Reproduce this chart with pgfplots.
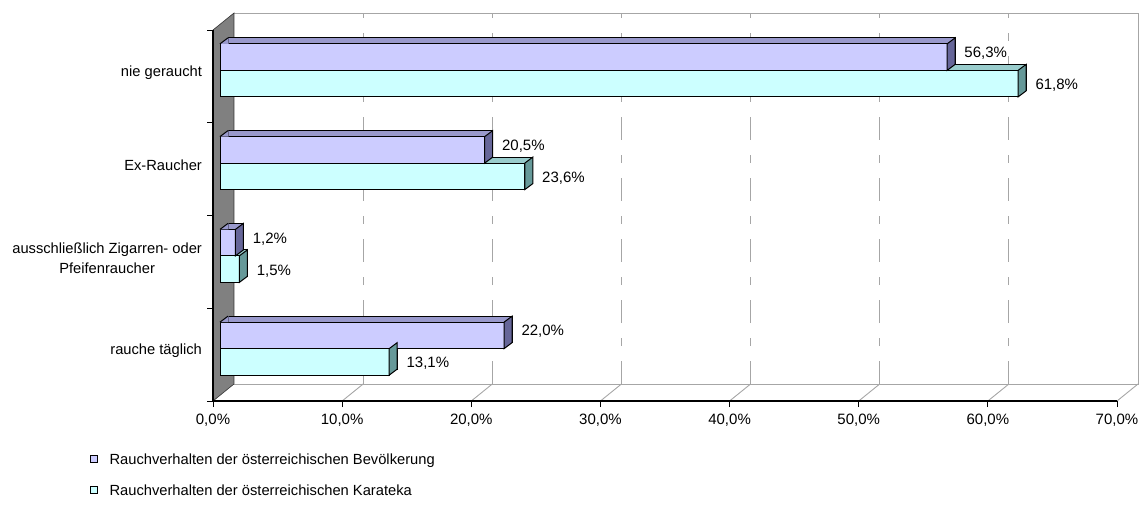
\documentclass[border=0pt]{standalone}
\usepackage{pgfplots}
\pgfplotsset{compat=1.18}
\usepackage{pgfplotstable}
\usepackage{fontspec}
\setmainfont{Liberation Sans}
\definecolor{pfront}{HTML}{CCCCFF}
\definecolor{ptop}{HTML}{9999CC}
\definecolor{pside}{HTML}{666699}
\definecolor{cfront}{HTML}{CCFFFF}
\definecolor{ctop}{HTML}{99CCCC}
\definecolor{cside}{HTML}{669999}
\definecolor{wallc}{HTML}{808080}
\definecolor{gridc}{HTML}{A6A6A6}

\pgfdeclareplotmark{sideP}{%
 \pgfpathmoveto{\pgfpoint{0pt}{0pt}}%
 \pgfpathlineto{\pgfpoint{0pt}{26.5pt}}%
 \pgfpathlineto{\pgfpoint{8pt}{32.5pt}}%
 \pgfpathlineto{\pgfpoint{8pt}{6pt}}%
 \pgfpathclose\pgfusepathqfillstroke}
\pgfdeclareplotmark{sideC}{%
 \pgfpathmoveto{\pgfpoint{0pt}{-26.5pt}}%
 \pgfpathlineto{\pgfpoint{0pt}{0pt}}%
 \pgfpathlineto{\pgfpoint{8pt}{6pt}}%
 \pgfpathlineto{\pgfpoint{8pt}{-20.5pt}}%
 \pgfpathclose\pgfusepathqfillstroke}
\pgfdeclareplotmark{leftP}{%
 \pgfpathmoveto{\pgfpoint{0pt}{26.5pt}}%
 \pgfpathlineto{\pgfpoint{8pt}{32.5pt}}%
 \pgfpathlineto{\pgfpoint{8.7pt}{32.5pt}}%
 \pgfpathlineto{\pgfpoint{8.7pt}{26.5pt}}%
 \pgfpathclose\pgfusepathqfill
 \pgfpathmoveto{\pgfpoint{0pt}{26.5pt}}%
 \pgfpathlineto{\pgfpoint{8pt}{32.5pt}}%
 \pgfusepathqstroke}

\pgfplotstableread{
y pop kar
0 22.0 13.1
1 1.2 1.5
2 20.5 23.6
3 56.3 61.8
}\data

\begin{document}
\fontsize{14.7}{17}\selectfont
\begin{tikzpicture}
% back wall
\begin{axis}[name=C, at={(21pt,17pt)}, anchor=south west, scale only axis,
  width=904pt, height=371pt, xmin=0, xmax=70, ymin=-0.5, ymax=3.5,
  hide axis, clip=false]
\pgfplotsinvokeforeach{10,20,...,60}{\draw[gridc, line width=0.9pt, dash pattern=on 23pt off 15pt on 8pt off 15pt] (axis cs:#1,-0.5) -- (axis cs:#1,3.5);}
\draw[gridc, line width=0.9pt] (axis cs:0,3.5) -- (axis cs:70,3.5) -- (axis cs:70,-0.5) -- (axis cs:0,-0.5);
\pgfplotsinvokeforeach{0,10,...,70}{\coordinate (c#1) at (axis cs:#1,-0.5);}
\coordinate (ct) at (axis cs:0,3.5);
\end{axis}
% front frame
\begin{axis}[name=A, at={(0,0)}, anchor=south west, scale only axis,
  width=904pt, height=371pt, xmin=0, xmax=70, ymin=-0.5, ymax=3.5,
  clip=false, axis on top,
  axis x line*=bottom, axis y line*=left,
  axis line style={black, line width=1.1pt, -},
  xtick={0,10,...,70}, tick align=outside, major tick length=6pt,
  xtick style={black, line width=0.9pt},
  xticklabel={\pgfmathprintnumber[fixed,fixed zerofill,precision=1,use comma,assume math mode=true]{\tick}\%},
  xticklabel style={font=\fontsize{15}{18}\selectfont, yshift=-2pt},
  ytick={0,1,2,3},
  yticklabels={rauche täglich,{ausschließlich Zigarren- oder\\Pfeifenraucher},Ex-Raucher,nie geraucht},
  ytick style={draw=none},
  yticklabel style={align=center, font=\fontsize{14.7}{20}\selectfont, yshift=4pt},
  legend image code/.code={\draw[#1] (0pt,-1.5pt) rectangle (7pt,5.5pt); \path[draw=none, fill=none] (0pt,-0.1pt) rectangle (17pt,0.1pt);},
  legend style={at={(0,0)}, anchor=north west, xshift=-123pt, yshift=-51pt,
    draw=none, fill=none, inner sep=0pt, row sep=14pt, cells={anchor=west},
    font=\fontsize{14.7}{17}\selectfont},
]
\fill[wallc, draw=black!80, line width=0.6pt] (axis cs:0,-0.5) -- (axis cs:0,3.5) -- (ct) -- (c0) -- cycle;
\pgfplotsinvokeforeach{10,20,...,70}{\draw[gridc, line width=0.9pt] (axis cs:#1,-0.5) -- (c#1);}
\pgfplotsinvokeforeach{-0.5,0.5,1.5,2.5,3.5}{\draw[black, line width=0.9pt] (axis cs:0,#1) -- ++(-6pt,0pt);}
\addlegendimage{fill=pfront, draw=black, line width=0.7pt}
\addlegendentry{Rauchverhalten der österreichischen Bevölkerung}
\addlegendimage{fill=cfront, draw=black, line width=0.7pt}
\addlegendentry{Rauchverhalten der österreichischen Karateka}
\end{axis}
% bars
\begin{axis}[name=B, at={(7pt,6pt)}, anchor=south west, scale only axis,
  width=904pt, height=371pt, xmin=0, xmax=70, ymin=-0.5, ymax=3.5,
  hide axis, clip=false,
  lbl/.style={nodes near coords={\pgfmathprintnumber[fixed,fixed zerofill,precision=1,use comma,assume math mode=true]{\pgfplotspointmeta}\%},
    point meta=x},
]
% Karateka
\addplot[xbar, bar width=26.5pt, bar shift=-13.25pt, xshift=8pt, yshift=6pt, fill=ctop, draw=black, line width=1pt] table[x=kar,y=y]{\data};
\addplot[only marks, mark=sideC, mark options={fill=cside, draw=black, line width=1pt}] table[x=kar,y=y]{\data};
\addplot[xbar, bar width=26.5pt, bar shift=-13.25pt, fill=cfront, draw=black, line width=1pt, lbl,
  every node near coord/.append style={anchor=west, xshift=12pt, yshift=-15pt, black, font=\fontsize{15}{18}\selectfont}] table[x=kar,y=y]{\data};
% Bevoelkerung
\addplot[xbar, bar width=26.5pt, bar shift=13.25pt, xshift=8pt, yshift=6pt, fill=ptop, draw=black, line width=1pt] table[x=pop,y=y]{\data};
\addplot[only marks, mark=leftP, mark options={fill=ptop, draw=black, line width=1pt}] coordinates {(0,0) (0,1) (0,2) (0,3)};
\addplot[only marks, mark=sideP, mark options={fill=pside, draw=black, line width=1pt}] table[x=pop,y=y]{\data};
\addplot[xbar, bar width=26.5pt, bar shift=13.25pt, fill=pfront, draw=black, line width=1pt, lbl,
  every node near coord/.append style={anchor=west, xshift=12pt, yshift=17pt, black, font=\fontsize{15}{18}\selectfont}] table[x=pop,y=y]{\data};
\end{axis}
\pgfresetboundingbox
\path (-213pt,-105pt) rectangle (929pt,401pt);
\end{tikzpicture}
\end{document}
